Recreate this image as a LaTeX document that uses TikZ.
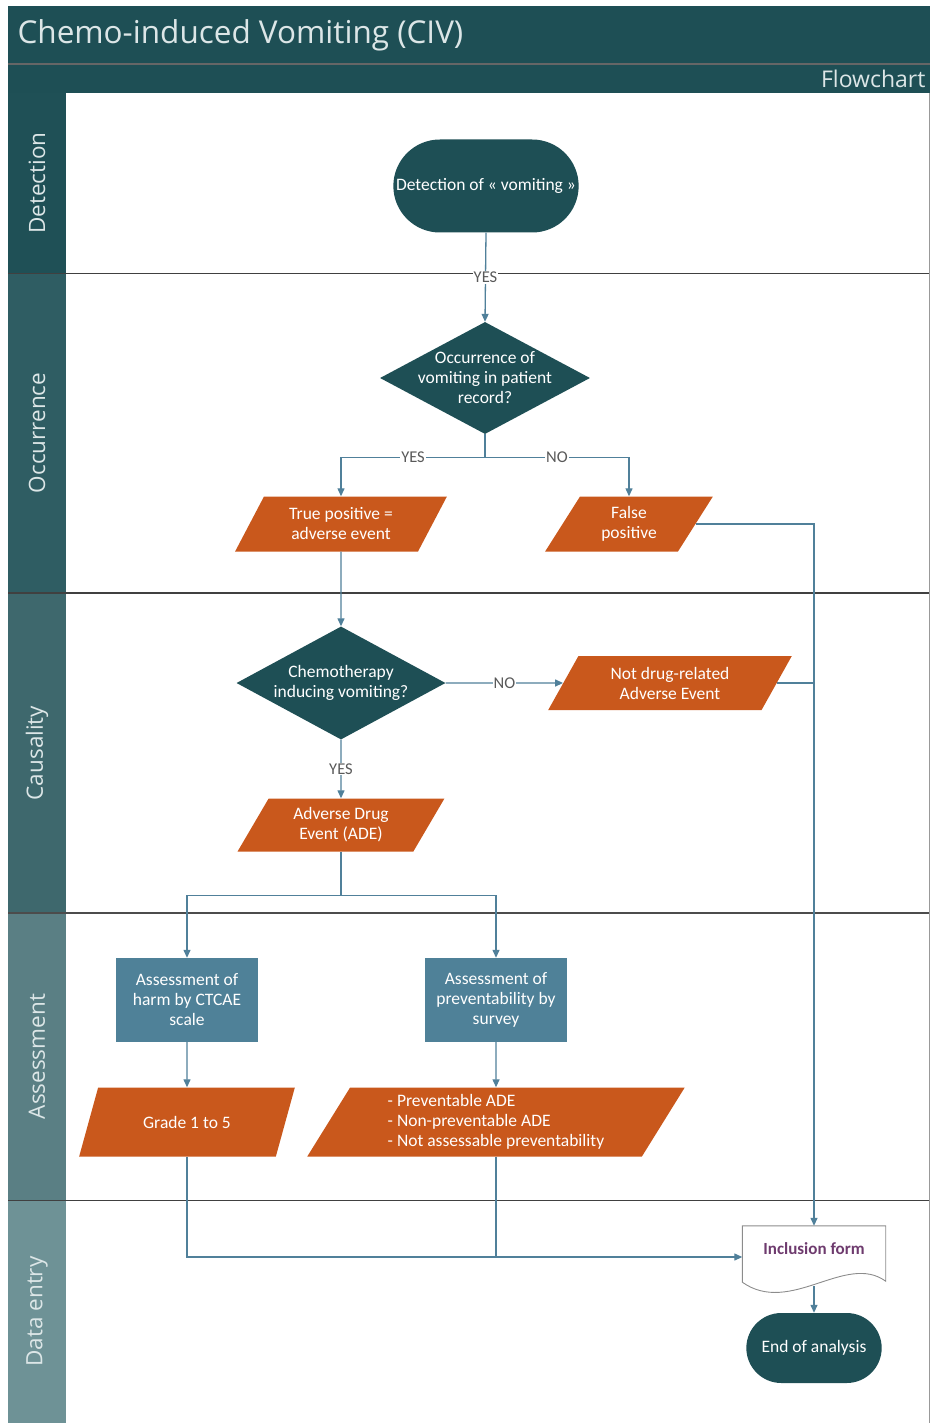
\documentclass[tikz,border=0pt]{standalone}
\usepackage{fontspec}
\setmainfont{Carlito}
\newfontfamily\headfont{Open Sans}
\usetikzlibrary{shapes.geometric,shapes.misc,arrows.meta,calc}

\definecolor{civteal}{HTML}{1E4F55}
\definecolor{civorange}{HTML}{C9581C}
\definecolor{civblue}{HTML}{4F8198}
\definecolor{civline}{HTML}{50809A}
\definecolor{civform}{HTML}{6E3B6E}
\definecolor{civhead}{HTML}{DCE6E7}
\definecolor{laneA}{HTML}{1F5056}
\definecolor{laneB}{HTML}{2F5D63}
\definecolor{laneC}{HTML}{3E686D}
\definecolor{laneD}{HTML}{5A7F84}
\definecolor{laneE}{HTML}{6E9296}

\begin{document}
\begin{tikzpicture}[x=1pt,y=-1pt,
  nodefont/.style={font=\fontsize{17.5}{20}\selectfont},
  terminal/.style={rounded rectangle, fill=civteal, text=white, nodefont},
  decision/.style={diamond, fill=civteal, inner sep=0pt},
  dectext/.style={text=white, align=center, nodefont},
  iobox/.style={trapezium, trapezium left angle=62, trapezium right angle=118,
    trapezium stretches=true, fill=civorange, text=white, align=center, nodefont},
  process/.style={rectangle, fill=civblue, text=white, align=center, nodefont},
  flowline/.style={draw=civline, line width=1.3pt, -{Triangle[length=8pt,width=7pt]}},
  joinline/.style={draw=civline, line width=1.3pt},
  answer/.style={fill=white, text=black!65, inner sep=1pt, font=\fontsize{16.5}{16.5}\selectfont},
  lanetitle/.style={rotate=90, text=civhead, font=\headfont\fontsize{22.5}{22.5}\selectfont}
]
\useasboundingbox (0,0) rectangle (930,1423);

% Title bar
\fill[civteal] (8,6) rectangle (930,93);
\draw[black!60, line width=1.5pt] (8,64) -- (930,64);
\node[anchor=west, text=civhead, font=\headfont\fontsize{31.5}{31.5}\selectfont] (title) at (14,35) {Chemo-induced Vomiting (CIV)};
\node[anchor=east, text=civhead, font=\headfont\fontsize{23}{23}\selectfont] (subtitle) at (929,79) {Flowchart};

% Lanes
\foreach \ytop/\ybot/\lanecol/\lanename [count=\i] in
  {93/273/laneA/Detection, 273/593/laneB/Occurrence, 593/913/laneC/Causality,
   913/1200/laneD/Assessment, 1200/1423/laneE/Data entry}{
  \fill[\lanecol] (8,\ytop) rectangle (66,\ybot);
  \node[lanetitle] (lane\i) at (37,{(\ytop+\ybot)/2}) {\lanename};
}
\draw[black!75, line width=0.8pt] (8,273) -- (930,273);
\draw[black!75, line width=1.1pt] (8,593) -- (930,593);
\draw[black!70, line width=2pt] (8,913) -- (930,913);
\draw[black!75, line width=0.8pt] (8,1200) -- (930,1200);
\draw[black!40, line width=0.6pt] (929,93) -- (929,1423);

% Detection
\node[terminal, minimum width=192pt, minimum height=93pt] (detect) at (486,186) {Detection of « vomiting »};

% Occurrence
\node[decision, minimum width=210pt, minimum height=112pt] (occur) at (485,378) {};
\node[dectext] (occurtext) at (occur) {Occurrence of\\vomiting in patient\\record?};
\node[iobox, minimum width=212pt, minimum height=55pt] (truepos) at (341,524) {True positive =\\adverse event};
\node[iobox, minimum width=168pt, minimum height=55pt] (falsepos) at (629,524) {False\\positive};

% Causality
\node[decision, minimum width=209pt, minimum height=113pt] (chemo) at (341,683) {};
\node[dectext] (chemotext) at (chemo) {Chemotherapy\\inducing vomiting?};
\node[iobox, minimum width=244pt, minimum height=54pt] (notdrug) at (670,683) {Not drug-related\\Adverse Event};
\node[iobox, minimum width=207pt, minimum height=53pt] (ade) at (341,825) {Adverse Drug\\Event (ADE)};

% Assessment
\node[process, minimum width=142pt, minimum height=84pt] (harm) at (187,1000) {Assessment of\\harm by CTCAE\\scale};
\node[process, minimum width=142pt, minimum height=84pt] (prevent) at (496,1000) {Assessment of\\preventability by\\survey};
\node[iobox, minimum width=216pt, minimum height=69pt] (grade) at (187,1122) {Grade 1 to 5};
\node[iobox, align=left, minimum width=379pt, minimum height=69pt] (outcome) at (496,1122) {- Preventable ADE\\- Non-preventable ADE\\- Not assessable preventability};

% Data entry
\node[rectangle, minimum width=143pt, minimum height=46pt, text=civform, font=\bfseries\fontsize{17}{17}\selectfont] (form) at (814,1249) {Inclusion form};
\draw[black!45, line width=0.9pt] (form.north west) -- (form.north east) -- ($(form.south east)+(0,9)$)
  .. controls ($(form.south east)+(-40,-20)$) and ($(form.south west)+(48,44)$) .. ($(form.south west)+(0,10)$) -- cycle;
\node[terminal, minimum width=142pt, minimum height=70pt] (finish) at (814,1348) {End of analysis};

% Connectors
\draw[flowline] (detect.south) -- node[answer] (ans1) {YES} (occur.north);
\coordinate (occsplit) at ($(occur.south)+(0,23)$);
\draw[joinline] (occur.south) -- (occsplit);
\draw[flowline] (occsplit) -| node[answer, pos=0.25] (ans2) {YES} (truepos.north);
\draw[flowline] (occsplit) -| node[answer, pos=0.25] (ans3) {NO} (falsepos.north);
\draw[flowline] (falsepos.east) -| (form.north);
\draw[flowline] (truepos.south) -- (chemo.north);
\draw[flowline] (chemo.east) -- node[answer] (ans4) {NO} (notdrug.west);
\draw[joinline] (notdrug.east) -- (notdrug.east -| form.north);
\draw[flowline] (chemo.south) -- node[answer] (ans5) {YES} (ade.north);
\coordinate (adesplit) at ($(ade.south)+(0,44)$);
\draw[joinline] (ade.south) -- (adesplit);
\draw[flowline] (adesplit) -| (harm.north);
\draw[flowline] (adesplit) -| (prevent.north);
\draw[flowline] (harm.south) -- (grade.north);
\draw[flowline] (prevent.south) -- (outcome.north);
\coordinate (formin) at ($(form.west)+(0,8)$);
\draw[flowline] (grade.south) |- (formin);
\draw[joinline] (outcome.south) -- (outcome.south |- formin);
\draw[flowline] ($(form.south)+(0,14)$) -- (finish.north);
\end{tikzpicture}
\end{document}
